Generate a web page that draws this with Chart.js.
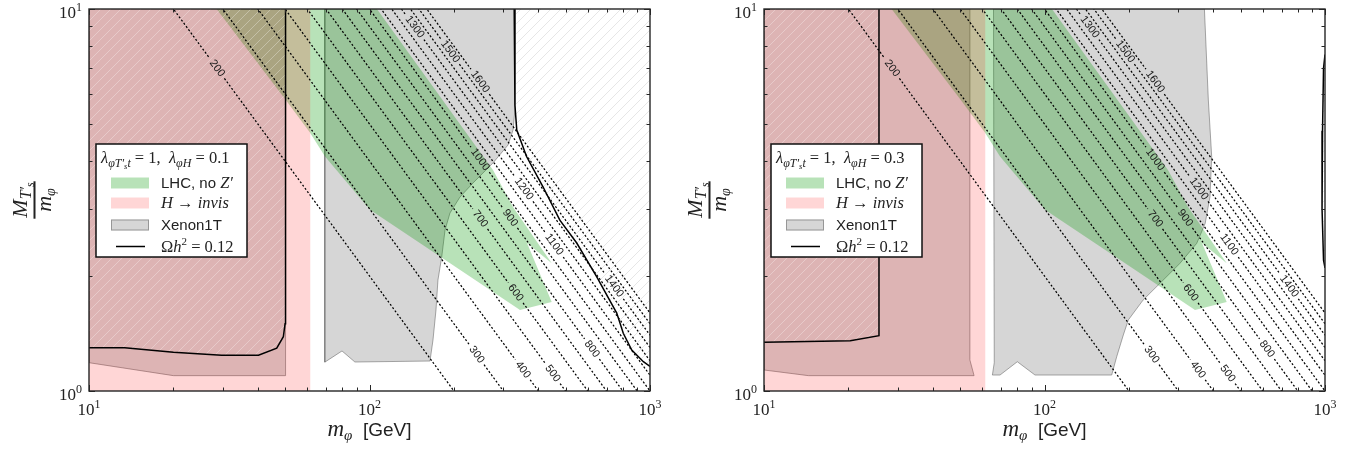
<!DOCTYPE html>
<html>
<head>
<meta charset="utf-8">
<title>Scalar DM with a top partner: LHC, H to invisible and Xenon1T limits</title>
<script src="https://cdn.jsdelivr.net/npm/chart.js@4.4.1/dist/chart.umd.min.js"></script>
<style>
  html, body { margin: 0; padding: 0; background: #fff; }
  .panel { position: absolute; top: 0; width: 680px; height: 455px; }
</style>
</head>
<body>
<div class="panel" style="left:0"><canvas id="panelA" width="680" height="455"></canvas></div>
<div class="panel" style="left:675px"><canvas id="panelB" width="680" height="455"></canvas></div>
<script>
/* =============================================
   two panels: m_phi vs M_T'/m_phi, log-log
   ============================================= */

var mphiRange  = [10, 1000];
var ratioRange = [1, 10];

// iso-mass contours M_T' = m_phi * ratio (GeV) and where their labels sit
var massLevels = [200, 300, 400, 500, 600, 700, 800, 900, 1000, 1100, 1200, 1300, 1400, 1500, 1600];
var labelMphi  = [28.6, 241, 352, 450, 332, 248, 621, 317, 248, 455, 355, 145, 745, 194, 248];

// LHC, no Z' (same in both panels)
var lhcMphi  = [28.5, 106.3, 275.6, 324.8, 446.3, 364.4, 446.3, 344, 178.4, 100.4, 69.4, 61.4, 50.3];
var lhcRatio = [10, 10, 3.79, 3.03, 2.16, 2.44, 1.71, 1.63, 2.25, 2.98, 4.11, 4.74, 5.78];

// H -> invisible, m_phi < m_H / 2
var higgsMphi  = [10, 61.5, 61.5, 10];
var higgsRatio = [1, 1, 10, 10];

// Xenon1T, lambda_phiH = 0.1
var xenonA1Mphi  = [10, 20, 50.2, 50.2, 10];
var xenonA1Ratio = [1.186, 1.097, 1.097, 10, 10];
var xenonA2Mphi  = [69.3, 69.3, 79.8, 88.7, 164.3, 168.4, 172.6, 175.4, 180.9, 185.9, 193.6, 210.2, 233.9, 275.6, 311.8, 324.8, 330, 330];
var xenonA2Ratio = [10, 1.19, 1.273, 1.191, 1.198, 1.36, 1.63, 1.952, 2.243, 2.639, 2.924, 3.22, 3.504, 3.954, 4.406, 4.82, 5.44, 10];

// Xenon1T, lambda_phiH = 0.3
var xenonB1Mphi  = [10, 14.4, 56.1, 54.2, 54.2, 10];
var xenonB1Ratio = [1.135, 1.097, 1.097, 1.206, 10, 10];
var xenonB2Mphi  = [65.8, 66.2, 65.2, 69.4, 80, 92.5, 173.6, 180.9, 191, 198.9, 224.6, 258, 304, 349, 374, 389, 394.5, 383.8, 371.6];
var xenonB2Ratio = [10, 1.186, 1.101, 1.101, 1.193, 1.101, 1.101, 1.23, 1.402, 1.534, 1.73, 1.914, 2.159, 2.436, 2.748, 3.226, 4.106, 5.78, 10];

// Omega h^2 = 0.12, lambda_phiH = 0.1
var relicA1Mphi  = [10, 13.4, 20, 29.7, 40.2, 46.7, 49.3, 50, 50.2];
var relicA1Ratio = [1.298, 1.298, 1.263, 1.24, 1.24, 1.294, 1.387, 1.5, 10];
var relicA2Mphi  = [328, 330, 335, 363, 415, 477, 548, 646, 761, 803, 861, 947, 1000];
var relicA2Ratio = [10, 5.6, 4.82, 4.11, 3.43, 2.8, 2.44, 1.99, 1.6, 1.416, 1.28, 1.193, 1.16];

// Omega h^2 = 0.12, lambda_phiH = 0.3
var relicB1Mphi  = [10, 20.3, 25.7, 25.7];
var relicB1Ratio = [1.341, 1.354, 1.396, 10];
var relicB2Mphi  = [1000, 988, 980, 976, 988, 1000];
var relicB2Ratio = [7.6, 7.0, 4.8, 3.0, 2.2, 2.1];

var SERIF = '"Liberation Serif", "DejaVu Serif", serif';
var SANS  = '"Liberation Sans", Arial, sans-serif';

var GREEN = 'rgba(0,150,0,0.28)';
var PINK  = 'rgba(255,0,0,0.16)';
var GREY  = 'rgba(128,128,128,0.32)';
var GREY_EDGE = 'rgba(100,100,100,0.55)';

function zip(xs, ys) {
  return xs.map(function(x, i) { return { x: x, y: ys[i] }; });
}

function closed(xs, ys) {
  var p = zip(xs, ys);
  p.push({ x: xs[0], y: ys[0] });
  return p;
}

function hatchPattern(color) {
  var c = document.createElement('canvas');
  c.width = c.height = 10;
  var g = c.getContext('2d');
  g.strokeStyle = color;
  g.lineWidth = 1;
  g.beginPath();
  g.moveTo(0, 10); g.lineTo(10, 0);
  g.moveTo(-5, 5); g.lineTo(5, -5);
  g.moveTo(5, 15); g.lineTo(15, 5);
  g.stroke();
  return g.createPattern(c, 'repeat');
}

function area(points, fillColor, edgeColor, order) {
  return {
    data: points,
    fill: 'shape',
    backgroundColor: fillColor,
    borderColor: edgeColor || 'rgba(0,0,0,0)',
    borderWidth: edgeColor ? 1 : 0.01,
    pointRadius: 0,
    order: order
  };
}

function curve(xs, ys) {
  return {
    data: zip(xs, ys),
    fill: false,
    borderColor: '#000',
    borderWidth: 1.5,
    pointRadius: 0,
    order: 2
  };
}

// half the label gap along a contour, in decades of m_phi
function labelGap(level) {
  return (String(level).length * 6 + 7) / 2 / 474;
}

function contourSets() {
  return massLevels.map(function(m, i) {
    var xl = labelMphi[i], g = Math.pow(10, labelGap(m));
    return {
      data: [
        { x: mphiRange[0], y: m / mphiRange[0] },
        { x: xl / g, y: m * g / xl },
        { x: xl, y: null },
        { x: xl * g, y: m / (xl * g) },
        { x: mphiRange[1], y: m / mphiRange[1] }
      ],
      fill: false,
      spanGaps: false,
      borderColor: '#000',
      borderWidth: 1.25,
      borderDash: [2, 2],
      pointRadius: 0,
      order: 1
    };
  });
}

/* ---------- text helpers ---------- */

function runsWidth(ctx, runs) {
  var w = 0;
  runs.forEach(function(r) { ctx.font = r.f; w += ctx.measureText(r.t).width; });
  return w;
}

function drawRuns(ctx, x, y, runs) {
  runs.forEach(function(r) {
    ctx.font = r.f;
    ctx.fillText(r.t, x, y + (r.dy || 0));
    x += ctx.measureText(r.t).width;
  });
  return x;
}

function powLabel(ctx, exp, x, y, align) {
  var base = '17px ' + SERIF, sup = '12px ' + SERIF;
  ctx.font = base; var wb = ctx.measureText('10').width;
  ctx.font = sup;  var we = ctx.measureText(String(exp)).width;
  var x0 = align === 'right' ? x - wb - we : x - (wb + we) / 2;
  ctx.font = base; ctx.fillText('10', x0, y);
  ctx.font = sup;  ctx.fillText(String(exp), x0 + wb, y - 7);
}

function logSteps(lo, hi) {
  var out = [];
  for (var d = Math.floor(Math.log10(lo)); d <= Math.ceil(Math.log10(hi)); d++) {
    for (var k = 1; k < 10; k++) {
      var v = k * Math.pow(10, d);
      if (v >= lo * 0.999 && v <= hi * 1.001) out.push({ v: v, major: k === 1 });
    }
  }
  return out;
}

/* ---------- drawing pieces ---------- */

function drawContourLabels(chart) {
  var ctx = chart.ctx, xs = chart.scales.x, ys = chart.scales.y;
  ctx.save();
  ctx.fillStyle = '#1a1a1a';
  ctx.font = '11px ' + SANS;
  ctx.textAlign = 'center';
  ctx.textBaseline = 'middle';
  massLevels.forEach(function(m, i) {
    var xl = labelMphi[i];
    var px = xs.getPixelForValue(xl), py = ys.getPixelForValue(m / xl);
    var dx = xs.getPixelForValue(xl * 2) - xs.getPixelForValue(xl / 2);
    var dy = ys.getPixelForValue(m / xl / 2) - ys.getPixelForValue(m / xl * 2);
    ctx.save();
    ctx.translate(px, py);
    ctx.rotate(Math.atan2(dy, dx));
    ctx.fillText(String(m), 0, 0);
    ctx.restore();
  });
  ctx.restore();
}

function drawFrame(chart) {
  var ctx = chart.ctx, a = chart.chartArea, xs = chart.scales.x, ys = chart.scales.y;
  ctx.save();
  ctx.strokeStyle = '#262626';
  ctx.lineWidth = 1;
  ctx.beginPath();
  logSteps(mphiRange[0], mphiRange[1]).forEach(function(t) {
    var p = Math.round(xs.getPixelForValue(t.v)) + 0.5, l = t.major ? 6 : 3.5;
    ctx.moveTo(p, a.bottom); ctx.lineTo(p, a.bottom - l);
    ctx.moveTo(p, a.top);    ctx.lineTo(p, a.top + l);
  });
  logSteps(ratioRange[0], ratioRange[1]).forEach(function(t) {
    var p = Math.round(ys.getPixelForValue(t.v)) + 0.5, l = t.major ? 6 : 3.5;
    ctx.moveTo(a.left, p);  ctx.lineTo(a.left + l, p);
    ctx.moveTo(a.right, p); ctx.lineTo(a.right - l, p);
  });
  ctx.stroke();
  ctx.lineWidth = 1.4;
  ctx.strokeRect(a.left, a.top, a.right - a.left, a.bottom - a.top);

  ctx.fillStyle = '#222';
  ctx.textAlign = 'left';
  ctx.textBaseline = 'alphabetic';
  [1, 2, 3].forEach(function(e) {
    powLabel(ctx, e, xs.getPixelForValue(Math.pow(10, e)), a.bottom + 24, 'center');
  });
  [0, 1].forEach(function(e) {
    powLabel(ctx, e, a.left - 7, ys.getPixelForValue(Math.pow(10, e)) + 9, 'right');
  });
  ctx.restore();
}

function drawAxisTitles(chart) {
  var ctx = chart.ctx, a = chart.chartArea;
  ctx.save();
  ctx.fillStyle = '#222';
  ctx.textBaseline = 'alphabetic';
  ctx.textAlign = 'left';

  var xt = [
    { t: 'm', f: 'italic 23px ' + SERIF },
    { t: '\u03c6', f: 'italic 15px ' + SERIF, dy: 4 },
    { t: '  [GeV]', f: '19px ' + SANS }
  ];
  drawRuns(ctx, (a.left + a.right) / 2 - runsWidth(ctx, xt) / 2, a.bottom + 45, xt);

  ctx.translate(a.left - 54, (a.top + a.bottom) / 2);
  ctx.rotate(-Math.PI / 2);
  var num = [
    { t: 'M', f: 'italic 22px ' + SERIF },
    { t: 'T\u2032', f: 'italic 16px ' + SERIF, dy: 4 },
    { t: 's', f: 'italic 12px ' + SERIF, dy: 7 }
  ];
  var den = [
    { t: 'm', f: 'italic 22px ' + SERIF },
    { t: '\u03c6', f: 'italic 14px ' + SERIF, dy: 4 }
  ];
  var wn = runsWidth(ctx, num), wd = runsWidth(ctx, den);
  drawRuns(ctx, -wn / 2, -8, num);
  drawRuns(ctx, -wd / 2, 16, den);
  ctx.fillRect(-wn / 2 - 1, -1.5, wn + 2, 2);
  ctx.restore();
}

function drawLegend(chart, coupling) {
  var ctx = chart.ctx, a = chart.chartArea;
  var bx = a.left + 7, by = a.top + 135, bw = 151, bh = 113;
  ctx.save();
  ctx.fillStyle = '#fff';
  ctx.fillRect(bx, by, bw, bh);
  ctx.strokeStyle = '#111';
  ctx.lineWidth = 1.5;
  ctx.strokeRect(bx, by, bw, bh);

  ctx.fillStyle = '#222';
  ctx.textAlign = 'left';
  ctx.textBaseline = 'alphabetic';
  var it = 'italic 16.5px ' + SERIF, up = '16.5px ' + SERIF, sub = 'italic 12px ' + SERIF;
  drawRuns(ctx, bx + 5, by + 19, [
    { t: '\u03bb', f: it },
    { t: '\u03c6T\u2032', f: sub, dy: 3.5 },
    { t: 's', f: 'italic 8.5px ' + SERIF, dy: 6 },
    { t: 't', f: sub, dy: 3.5 },
    { t: ' = 1,  ', f: up },
    { t: '\u03bb', f: it },
    { t: '\u03c6H', f: sub, dy: 3.5 },
    { t: ' = ' + coupling, f: up }
  ]);

  var sx = bx + 15, tx = bx + 65;
  var rows = [by + 38.5, by + 58.5, by + 80.5, by + 102.5];

  ctx.fillStyle = GREEN; ctx.fillRect(sx, rows[0] - 5, 38, 11);
  ctx.fillStyle = PINK;  ctx.fillRect(sx, rows[1] - 5, 38, 11);
  ctx.fillStyle = GREY;  ctx.fillRect(sx, rows[2] - 5, 38, 11);
  ctx.strokeStyle = GREY_EDGE; ctx.lineWidth = 1;
  ctx.strokeRect(sx + 0.5, rows[2] - 4.5, 37, 10);
  ctx.strokeStyle = '#000'; ctx.lineWidth = 1.5;
  ctx.beginPath(); ctx.moveTo(bx + 20, rows[3]); ctx.lineTo(bx + 49, rows[3]); ctx.stroke();

  ctx.fillStyle = '#222';
  drawRuns(ctx, tx, rows[0] + 5.5, [{ t: 'LHC, no ', f: '15px ' + SANS }, { t: 'Z\u2032', f: it }]);
  drawRuns(ctx, tx, rows[1] + 5.5, [{ t: 'H', f: it }, { t: ' \u2192 ', f: up }, { t: 'invis', f: it }]);
  drawRuns(ctx, tx, rows[2] + 5.5, [{ t: 'Xenon1T', f: '15px ' + SANS }]);
  drawRuns(ctx, tx, rows[3] + 5.5, [
    { t: '\u03a9', f: up }, { t: 'h', f: it }, { t: '2', f: '11px ' + SERIF, dy: -7 }, { t: ' = 0.12', f: up }
  ]);
  ctx.restore();
}

var panelDecor = {
  id: 'panelDecor',
  afterDatasetsDraw: function(chart) { drawContourLabels(chart); },
  afterDraw: function(chart, args, opts) {
    drawFrame(chart);
    drawAxisTitles(chart);
    drawLegend(chart, opts.coupling);
  }
};

/* ---------- panels ---------- */

function makePanel(id, coupling, xenonLow, xenonHigh, relicLow, relicHigh) {
  var hatchOnFill  = hatchPattern('rgba(255,255,255,0.30)');
  var hatchOnWhite = hatchPattern('rgba(200,200,200,0.45)');

  var lowHatch = zip(relicLow[0], relicLow[1]);
  lowHatch.push({ x: mphiRange[0], y: ratioRange[1] });
  var highHatch = zip(relicHigh[0], relicHigh[1]);
  highHatch.push({ x: mphiRange[1], y: ratioRange[1] });

  var datasets = contourSets().concat([
    curve(relicLow[0], relicLow[1]),
    curve(relicHigh[0], relicHigh[1]),
    area(lowHatch, hatchOnFill, null, 5),
    area(highHatch, hatchOnWhite, null, 5),
    area(closed(higgsMphi, higgsRatio), PINK, null, 6),
    area(closed(lhcMphi, lhcRatio), GREEN, null, 7),
    area(closed(xenonLow[0], xenonLow[1]), GREY, GREY_EDGE, 8),
    area(closed(xenonHigh[0], xenonHigh[1]), GREY, GREY_EDGE, 8)
  ]);

  new Chart(document.getElementById(id), {
    type: 'line',
    data: { datasets: datasets },
    options: {
      responsive: false,
      animation: false,
      events: [],
      layout: { padding: { left: 89, right: 30, top: 9, bottom: 64 } },
      elements: { line: { tension: 0 }, point: { radius: 0 } },
      plugins: {
        legend: { display: false },
        tooltip: { enabled: false },
        panelDecor: { coupling: coupling }
      },
      scales: {
        x: { type: 'logarithmic', min: mphiRange[0], max: mphiRange[1], display: false },
        y: { type: 'logarithmic', min: ratioRange[0], max: ratioRange[1], display: false }
      }
    },
    plugins: [panelDecor]
  });
}

makePanel('panelA', '0.1',
  [xenonA1Mphi, xenonA1Ratio], [xenonA2Mphi, xenonA2Ratio],
  [relicA1Mphi, relicA1Ratio], [relicA2Mphi, relicA2Ratio]);

makePanel('panelB', '0.3',
  [xenonB1Mphi, xenonB1Ratio], [xenonB2Mphi, xenonB2Ratio],
  [relicB1Mphi, relicB1Ratio], [relicB2Mphi, relicB2Ratio]);
</script>
</body>
</html>
